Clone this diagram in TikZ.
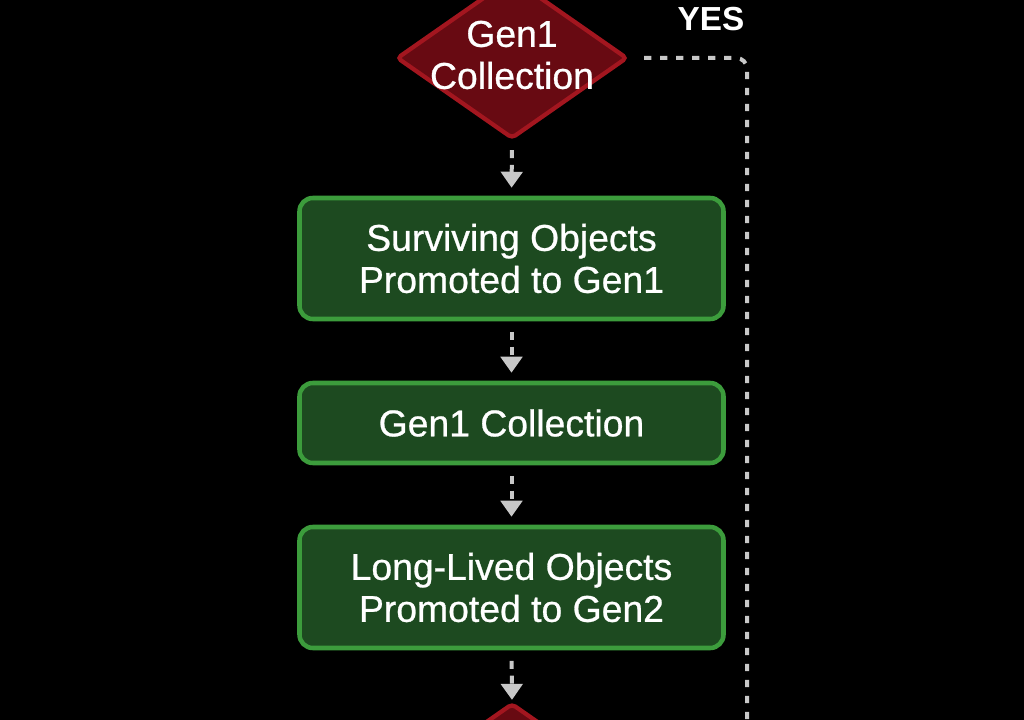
\documentclass[tikz,border=0pt]{standalone}
\usepackage{fontspec}
\setmainfont{Liberation Sans}
\newfontface\medfont{Liberation Sans}[FakeBold=0.7]
\usetikzlibrary{shapes.geometric,arrows.meta}
\definecolor{boxfill}{HTML}{1D4A20}
\definecolor{boxedge}{HTML}{3C9C3C}
\definecolor{decfill}{HTML}{680A12}
\definecolor{decedge}{HTML}{A3161F}
\definecolor{arrowgray}{HTML}{C8C8C8}
\begin{document}
\begin{tikzpicture}[x=0.75pt,y=-0.75pt,
  procbox/.style={draw=boxedge, fill=boxfill, line width=3.4pt, rounded corners=10pt,
    minimum width=318pt, text=white, align=center, inner sep=0pt,
    font=\medfont\fontsize{28}{31.5}\selectfont},
  decision/.style={diamond, draw=decedge, fill=decfill, line width=3.2pt,
    minimum width=173pt, minimum height=121pt, inner sep=0pt, rounded corners=3pt},
  dectext/.style={text=white, align=center, inner sep=0pt,
    font=\medfont\fontsize{28}{31.5}\selectfont},
  flow/.style={draw=arrowgray, line width=3pt, dash pattern=on 6pt off 5pt,
    -{Triangle[length=12pt,width=16pt]}},
  yesline/.style={draw=arrowgray, line width=3pt, dash pattern=on 5.5pt off 6.5pt,
    rounded corners=8pt},
  lbl/.style={text=white, inner sep=0pt, font=\bfseries\fontsize{25}{30}\selectfont}]
\fill[black] (0,0) rectangle (1024,720);
\useasboundingbox (0,0) rectangle (1024,720);
\clip (0,0) rectangle (1024,720);

\node[decision] (d1) at (512,58) {};
\node[dectext] (d1t) at (512,55) {Gen1\\Collection};

\node[procbox, minimum height=90.75pt] (b1) at (511.5,258.5) {Surviving Objects\\Promoted to Gen1};
\node[procbox, minimum height=60pt] (b2) at (511.5,423) {Gen1 Collection};
\node[procbox, minimum height=90.75pt] (b3) at (511.5,587.5) {Long-Lived Objects\\Promoted to Gen2};

\node[decision] (d2) at (512,784) {};

\node[lbl] (yes) at (711,19) {YES};

\draw[flow, shorten <=7pt, shorten >=6pt] (d1.south) -- (b1.north);
\draw[flow, shorten <=8pt, shorten >=6pt] (b1.south) -- (b2.north);
\draw[flow, shorten <=8pt, shorten >=6pt] (b2.south) -- (b3.north);
\draw[flow, shorten <=8pt, shorten >=1pt] (b3.south) -- (d2.north);

\coordinate (yesend) at (747,760);
\draw[yesline, shorten <=11pt] (d1.east) -| (yesend);
\end{tikzpicture}
\end{document}
